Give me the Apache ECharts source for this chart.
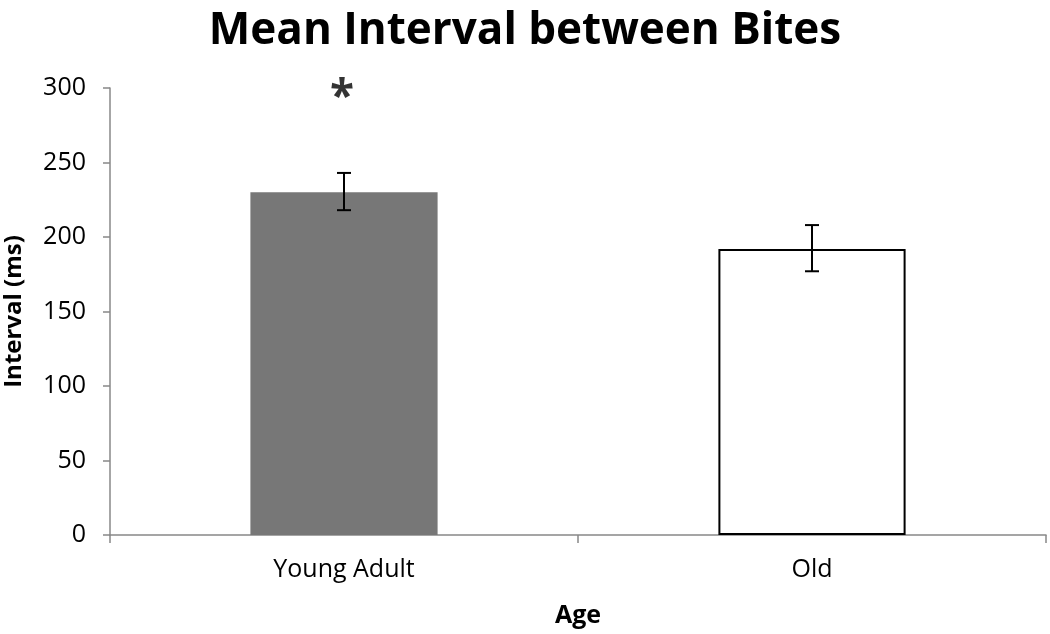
<!DOCTYPE html>
<html>
<head>
<meta charset="utf-8">
<script src="https://cdn.jsdelivr.net/npm/echarts@6/dist/echarts.min.js"></script>
<style>
  html, body { margin: 0; padding: 0; background: #fff; }
  #chart { width: 1050px; height: 634px; }
</style>
</head>
<body>
<div id="chart"></div>
<script>
// data
const categories = ["Young Adult", "Old"];
const meanValues = [230, 192];
const errLow = [218, 177];
const errHigh = [243, 208];
const barColors = ["#777777", "#ffffff"];
const marks = ["*", ""];
const markLevel = [300, null];

const font = "'Open Sans', 'Liberation Sans', sans-serif";

const chart = echarts.init(document.getElementById("chart"));
chart.setOption({
    backgroundColor: "#fff",
    animation: false,
    title: {
        text: "Mean Interval between Bites",
        left: "center",
        top: 4,
        textStyle: { fontFamily: font, fontSize: 44, fontWeight: "bold", color: "#000" },
    },
    grid: { left: 110, right: 4, top: 88, bottom: 99, outerBoundsMode: "none" },
    xAxis: {
        type: "category",
        data: categories,
        name: "Age",
        nameLocation: "middle",
        nameGap: 68,
        nameTextStyle: { fontFamily: font, fontSize: 25, fontWeight: "bold", color: "#000" },
        axisLine: { lineStyle: { color: "#888", width: 1.5 } },
        axisTick: { show: true, length: 8, lineStyle: { color: "#888", width: 1.5 } },
        axisLabel: { fontFamily: font, fontSize: 25, color: "#000", margin: 22 },
    },
    yAxis: {
        type: "value",
        min: 0,
        max: 300,
        interval: 50,
        name: "Interval (ms)",
        nameLocation: "middle",
        nameGap: 84,
        nameTextStyle: { fontFamily: font, fontSize: 24, fontWeight: "bold", color: "#000" },
        axisLine: { show: true, lineStyle: { color: "#888", width: 1.5 } },
        axisTick: { show: true, length: 7, lineStyle: { color: "#888", width: 1.5 } },
        axisLabel: { fontFamily: font, fontSize: 25, color: "#000", margin: 24 },
        splitLine: { show: false },
    },
    series: [
        {
            type: "bar",
            barWidth: "40%",
            data: meanValues.map((v, i) => ({
                value: v,
                itemStyle: { color: barColors[i], borderColor: i === 1 ? "#000" : barColors[i], borderWidth: i === 1 ? 2 : 0 },
            })),
        },
        {
            type: "custom",
            data: categories.map((c, i) => [i, errLow[i], errHigh[i]]),
            renderItem: function (params, api) {
                const lo = api.coord([api.value(0), api.value(1)]);
                const hi = api.coord([api.value(0), api.value(2)]);
                const w = 7;
                const style = { stroke: "#000", lineWidth: 2 };
                return {
                    type: "group",
                    children: [
                        { type: "line", shape: { x1: lo[0], y1: lo[1], x2: hi[0], y2: hi[1] }, style: style },
                        { type: "line", shape: { x1: hi[0] - w, y1: hi[1], x2: hi[0] + w, y2: hi[1] }, style: style },
                        { type: "line", shape: { x1: lo[0] - w, y1: lo[1], x2: lo[0] + w, y2: lo[1] }, style: style },
                    ],
                };
            },
            z: 5,
        },
        {
            type: "scatter",
            symbolSize: 0,
            data: markLevel.map((v, i) => [i, v]).filter(d => d[1] !== null),
            label: {
                show: true,
                position: "inside",
                formatter: p => marks[p.dataIndex],
                fontFamily: font,
                fontSize: 44,
                fontWeight: "bold",
                color: "#000",
                offset: [-2, 10],
            },
        },
    ],
});
</script>
</body>
</html>
